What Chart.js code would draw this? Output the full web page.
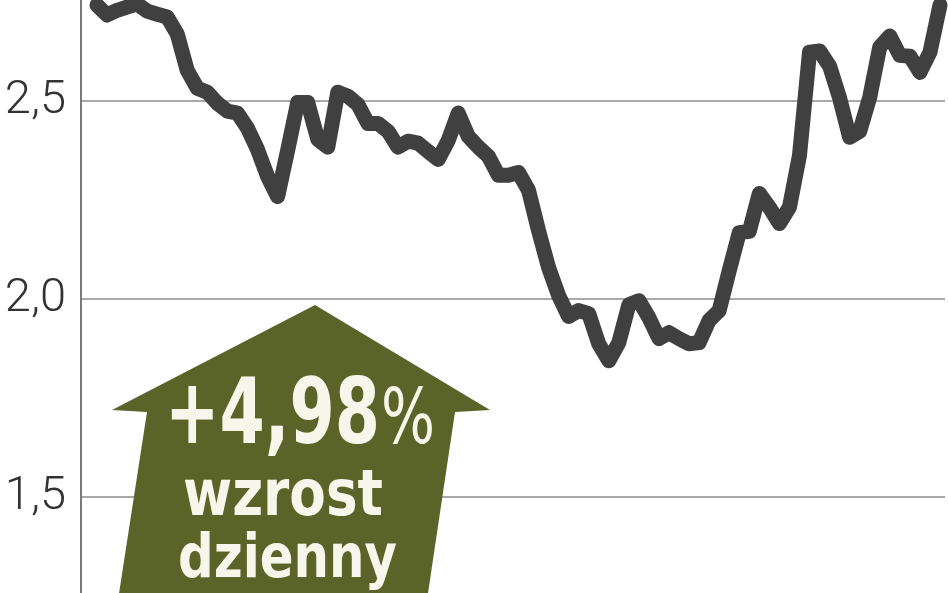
<!DOCTYPE html>
<html>
<head>
<meta charset="utf-8">
<script src="https://cdn.jsdelivr.net/npm/chart.js@4/dist/chart.umd.min.js"></script>
<style>
  html, body { margin: 0; padding: 0; background: #fff; }
  #wrap { width: 948px; height: 593px; position: relative; }
</style>
</head>
<body>
<div id="wrap"><canvas id="c"></canvas></div>
<script>
// --- DATA ---
const prices = [
  2.743, 2.718, 2.730, 2.738, 2.746, 2.728, 2.720, 2.713, 2.670, 2.578,
  2.533, 2.523, 2.495, 2.475, 2.470, 2.432, 2.378, 2.310, 2.259, 2.376,
  2.497, 2.497, 2.404, 2.384, 2.523, 2.513, 2.492, 2.444, 2.444, 2.424,
  2.384, 2.399, 2.394, 2.373, 2.353, 2.401, 2.470, 2.411, 2.384, 2.361,
  2.313, 2.313, 2.320, 2.275, 2.173, 2.080, 2.009, 1.956, 1.971, 1.963,
  1.887, 1.844, 1.890, 1.986, 1.996, 1.953, 1.900, 1.915, 1.900, 1.887,
  1.890, 1.946, 1.971, 2.072, 2.168, 2.171, 2.267, 2.232, 2.191, 2.232,
  2.363, 2.624, 2.627, 2.589, 2.508, 2.409, 2.424, 2.510, 2.637, 2.665,
  2.616, 2.614, 2.573, 2.624, 2.743
];
const days = prices.map((_, i) => i);
const yTicks = [1.5, 2.0, 2.5];
const yTickLabels = ['1,5', '2,0', '2,5'];
const badgeLines = ['+4,98', '%', 'wzrost', 'dzienny'];

// --- BADGE (arrow annotation) ---
function fitFont(ctx, text, weight, family, targetW) {
  ctx.font = `${weight} 100px ${family}`;
  const w = ctx.measureText(text).width;
  return 100 * targetW / w;
}

// draws text fitted to a width, stretched vertically about its baseline
function drawFitted(ctx, text, weight, family, x, y, w, stretch) {
  const fs = fitFont(ctx, text, weight, family, w);
  ctx.save();
  ctx.translate(x, y);
  ctx.scale(1, stretch);
  ctx.font = `${weight} ${fs}px ${family}`;
  ctx.fillText(text, 0, 0);
  ctx.restore();
}

const badgePlugin = {
  id: 'badge',
  afterDatasetsDraw(chart) {
    const ctx = chart.ctx;
    ctx.save();
    ctx.fillStyle = '#5a6428';
    ctx.beginPath();
    ctx.moveTo(315, 305);
    ctx.lineTo(490, 410);
    ctx.lineTo(455, 412);
    ctx.lineTo(427, 600);
    ctx.lineTo(118, 600);
    ctx.lineTo(147, 412);
    ctx.lineTo(112, 410);
    ctx.closePath();
    ctx.fill();

    const fam = '"DejaVu Sans Condensed", "DejaVu Sans", sans-serif';
    ctx.fillStyle = '#f7f6ea';
    ctx.textBaseline = 'alphabetic';
    ctx.textAlign = 'left';

    drawFitted(ctx, badgeLines[0], 'bold', fam, 165, 443, 215, 1.25);
    drawFitted(ctx, badgeLines[1], 'normal', fam, 381, 443, 54, 1.2);
    drawFitted(ctx, badgeLines[2], 'bold', fam, 183, 515, 200, 1.08);
    drawFitted(ctx, badgeLines[3], 'bold', fam, 178, 577, 219, 1.08);
    ctx.restore();
  }
};

// --- CHART ---
const ctx = document.getElementById('c').getContext('2d');
new Chart(ctx, {
  type: 'line',
  data: {
    datasets: [{
      data: days.map((d, i) => ({ x: d, y: prices[i] })),
      borderColor: '#404040',
      borderWidth: 15,
      borderJoinStyle: 'round',
      borderCapStyle: 'round',
      pointRadius: 0,
      tension: 0,
      fill: false,
      clip: 8
    }]
  },
  options: {
    responsive: true, maintainAspectRatio: false, animation: false,
    layout: { autoPadding: false, padding: { left: 0, right: 3, top: 0, bottom: 0 } },
    plugins: { legend: { display: false }, tooltip: { enabled: false } },
    scales: {
      x: {
        type: 'linear', display: false,
        min: -1.59, max: 84.5
      },
      y: {
        min: 1.257, max: 2.756,
        afterFit: s => { s.width = 81; s.paddingTop = 0; s.paddingBottom = 0; },
        afterBuildTicks: s => { s.ticks = yTicks.map(v => ({ value: v })); },
        grid: { color: '#a9a9a9', lineWidth: 2, drawTicks: false },
        border: { color: '#7a7a7a', width: 2 },
        ticks: {
          padding: 15,
          color: '#333',
          font: { family: 'Roboto', weight: 300, size: 47 },
          callback: (v) => yTickLabels[yTicks.indexOf(v)] ?? ''
        }
      }
    }
  },
  plugins: [badgePlugin]
});
</script>
</body>
</html>
